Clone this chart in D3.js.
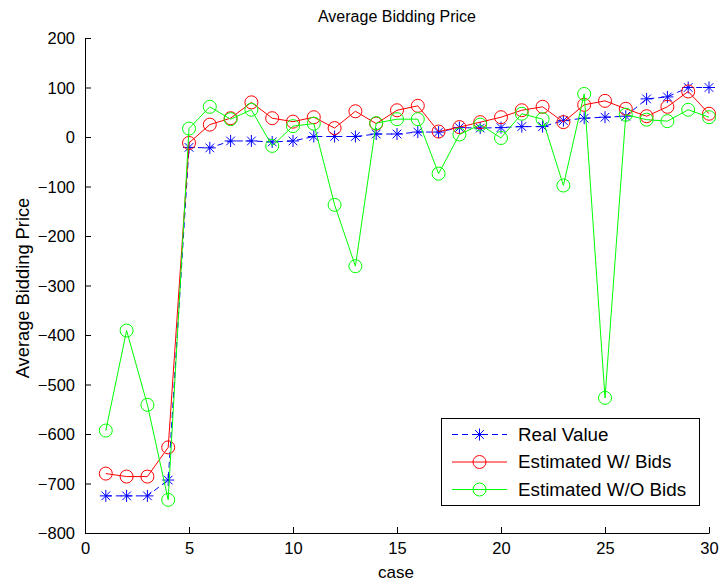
<!DOCTYPE html>
<html><head><meta charset="utf-8">
<script src="https://cdnjs.cloudflare.com/ajax/libs/d3/7.8.5/d3.min.js"></script>
<style>body{margin:0;background:#fff}svg{display:block;font-family:"Liberation Sans",Arial,sans-serif}</style>
</head><body><svg id="c" width="721" height="584"></svg>
<script>
const cases = d3.range(1, 31);
const realValue = [-725,-725,-725,-693,-21,-22,-8,-8,-10,-8,1,1,1,6,6,10,10,19,18,19,21,21,33,38,40,42,77,81,100,100];
const estWithBids = [-680,-686,-686,-627,-12,25,38,70,38,31,40,18,52,27,54,63,11,20,30,40,54,61,30,65,73,57,42,61,92,47];
const estWithoutBids = [-593,-391,-541,-733,17,61,36,55,-18,22,27,-137,-261,28,36,36,-74,5,25,-2,47,36,-98,87,-527,45,35,32,55,40];
const xTicks = [0,5,10,15,20,25,30];
const yTicks = [200,100,0,-100,-200,-300,-400,-500,-600,-700,-800];
const seriesNames = ["Real Value","Estimated W/ Bids","Estimated W/O Bids"];
const seriesColors = ["#0000ff","#ff0000","#00ff00"];

const svg = d3.select("#c");
const L=85, R=709, T=38, B=533;
const x = d3.scaleLinear().domain([0,30]).range([L,R]);
const y = d3.scaleLinear().domain([-800,200]).range([B,T]);

const xa = svg.append("g").attr("transform",`translate(0,${B})`)
  .call(d3.axisBottom(x).tickValues(xTicks).tickSize(-6).tickPadding(9).tickSizeOuter(0));
const ya = svg.append("g").attr("transform",`translate(${L},0)`)
  .call(d3.axisLeft(y).tickValues(yTicks).tickSize(-6).tickPadding(9).tickSizeOuter(0));
[xa,ya].forEach(a=>{
  a.selectAll("path,line").attr("stroke","#000");
  a.selectAll("text").attr("font-size",16.5).attr("fill","#000").attr("font-family","Liberation Sans, Arial, sans-serif");
});
ya.selectAll("text").attr("dx",-1).attr("dy","0.35em");

svg.append("text").attr("x",397).attr("y",22).attr("text-anchor","middle").attr("font-size",16).text("Average Bidding Price");
svg.append("text").attr("x",396).attr("y",578).attr("text-anchor","middle").attr("font-size",17).text("case");
svg.append("text").attr("transform","translate(29,288) rotate(-90)").attr("text-anchor","middle").attr("font-size",18.3).text("Average Bidding Price");

const line = d3.line().x((d,i)=>x(cases[i])).y(d=>y(d));
const data = [realValue, estWithBids, estWithoutBids];

function star(g, cx, cy, color){
  const s=6;
  const p = g.append("g").attr("stroke",color).attr("stroke-width",1);
  p.append("line").attr("x1",cx-s).attr("x2",cx+s).attr("y1",cy).attr("y2",cy);
  p.append("line").attr("x1",cx).attr("x2",cx).attr("y1",cy-s).attr("y2",cy+s);
  const d=s*0.72;
  p.append("line").attr("x1",cx-d).attr("x2",cx+d).attr("y1",cy-d).attr("y2",cy+d);
  p.append("line").attr("x1",cx-d).attr("x2",cx+d).attr("y1",cy+d).attr("y2",cy-d);
}

data.forEach((vals,k)=>{
  const g = svg.append("g");
  g.append("path").attr("d",line(vals)).attr("fill","none").attr("stroke",seriesColors[k])
    .attr("stroke-width",1).attr("stroke-dasharray",k===0?"6,4":null);
  vals.forEach((v,i)=>{
    if(k===0) star(g, x(cases[i]), y(v), seriesColors[k]);
    else g.append("circle").attr("cx",x(cases[i])).attr("cy",y(v)).attr("r",6.5)
      .attr("fill","none").attr("stroke",seriesColors[k]).attr("stroke-width",1);
  });
});

const lg = svg.append("g");
lg.append("rect").attr("x",441.5).attr("y",418.5).attr("width",258).attr("height",87)
  .attr("fill","#fff").attr("stroke","#000").attr("stroke-width",1);
seriesNames.forEach((n,k)=>{
  const cy = 434.5 + k*27.5;
  lg.append("line").attr("x1",452).attr("x2",507).attr("y1",cy).attr("y2",cy)
    .attr("stroke",seriesColors[k]).attr("stroke-dasharray",k===0?"6,4":null);
  if(k===0) star(lg,479.5,cy,seriesColors[k]);
  else lg.append("circle").attr("cx",479.5).attr("cy",cy).attr("r",6.5).attr("fill","none").attr("stroke",seriesColors[k]);
  lg.append("text").attr("x",518).attr("y",cy+6).attr("font-size",18.8).text(n);
});
</script></body></html>
